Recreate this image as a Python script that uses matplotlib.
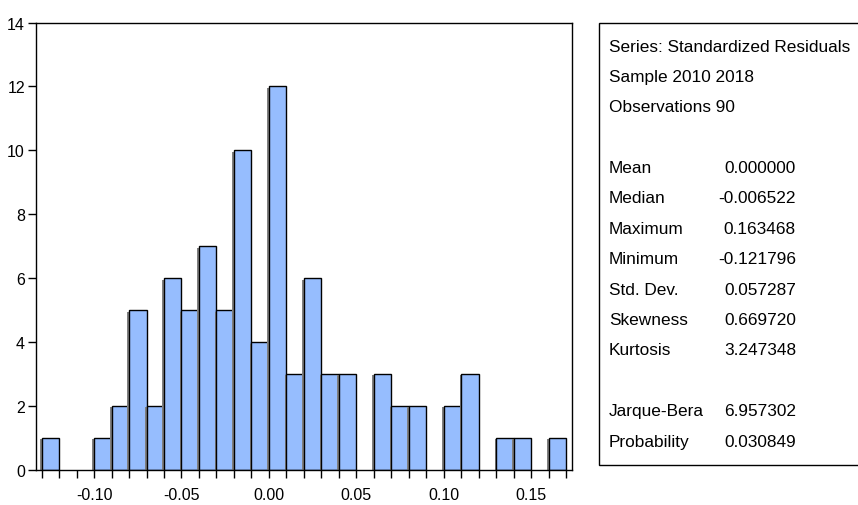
import matplotlib
matplotlib.use("Agg")
import matplotlib.pyplot as plt
import matplotlib.patches as patches
import matplotlib.patheffects as pe
import numpy as np
from matplotlib import font_manager

# histogram of residuals (bin width 0.01, starting at -0.13)
bin_start = -0.13
bin_width = 0.01
counts = [1, 0, 0, 1, 2, 5, 2, 6, 5, 7, 5, 10, 4, 12, 3,
          6, 3, 3, 0, 3, 2, 2, 0, 2, 3, 0, 1, 1, 0, 1]

stat_header = ["Series: Standardized Residuals", "Sample 2010 2018", "Observations 90"]
stat_names = ["Mean", "Median", "Maximum", "Minimum", "Std. Dev.", "Skewness", "Kurtosis"]
stat_values = ["0.000000", "-0.006522", "0.163468", "-0.121796", "0.057287", "0.669720", "3.247348"]
test_names = ["Jarque-Bera", "Probability"]
test_values = ["6.957302", "0.030849"]

names = {f.name for f in font_manager.fontManager.ttflist}
family = "Liberation Sans Narrow" if "Liberation Sans Narrow" in names else "Liberation Sans"
narrow = family == "Liberation Sans Narrow"
plt.rcParams['font.family'] = [family, 'DejaVu Sans']

W, H = 858, 506
fig = plt.figure(figsize=(W / 100, H / 100), dpi=100)
ax = fig.add_axes([36 / W, 1 - 471 / H, (572 - 36) / W, (471 - 23.5) / H])

edges = bin_start + bin_width * np.arange(len(counts) + 1)
lefts = edges[:-1]
keep = [i for i, c in enumerate(counts) if c > 0]
bars = ax.bar(lefts[keep], [counts[i] for i in keep], width=bin_width, align='edge',
              facecolor='#96bdfe', edgecolor='black', linewidth=1.0)
for b in bars:
    b.set_path_effects([pe.SimplePatchShadow(offset=(-1.2, -1.0), shadow_rgbFace='#808080', alpha=1),
                        pe.Normal()])

ax.set_xlim(-0.1332, 0.1733)
ax.set_ylim(0, 14)
ax.set_yticks(range(0, 15, 2))
ax.set_xticks(edges, minor=True)
major = np.arange(-0.10, 0.151, 0.05)
ax.set_xticks(major)
ax.set_xticklabels([f"{v:.2f}" if abs(v) > 1e-9 else "0.00" for v in major])
tick_fs = 13 if narrow else 11.5
ax.tick_params(axis='both', which='both', direction='out', length=6, width=1, labelsize=tick_fs)
ax.tick_params(axis='x', which='major', pad=6)
ax.tick_params(axis='y', pad=2)
for s in ax.spines.values():
    s.set_linewidth(1.0)

# stats box
box = patches.Rectangle((599 / W, 1 - 466 / H), (W - 599 + 10) / W, (466 - 23.5) / H,
                        transform=fig.transFigure, facecolor='white', edgecolor='black',
                        linewidth=1.0, clip_on=False)
fig.patches.append(box)

fs = 15 if narrow else 12.4
x_text = 609 / W
x_val = 796 / W
line_h = 30.4
y0 = 47
for i, t in enumerate(stat_header):
    fig.text(x_text, 1 - (y0 + i * line_h) / H, t, fontsize=fs, va='center', ha='left')
y1 = y0 + 4 * line_h
for i, (n, v) in enumerate(zip(stat_names, stat_values)):
    y = 1 - (y1 + i * line_h) / H
    fig.text(x_text, y, n, fontsize=fs, va='center', ha='left')
    fig.text(x_val, y, v, fontsize=fs, va='center', ha='right')
y2 = y1 + 8 * line_h
for i, (n, v) in enumerate(zip(test_names, test_values)):
    y = 1 - (y2 + i * line_h) / H
    fig.text(x_text, y, n, fontsize=fs, va='center', ha='left')
    fig.text(x_val, y, v, fontsize=fs, va='center', ha='right')

fig.savefig("out.png", dpi=100)
